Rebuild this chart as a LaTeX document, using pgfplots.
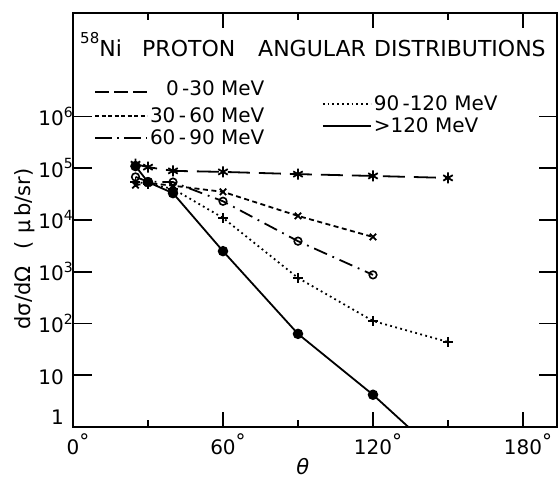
\documentclass[border=0pt]{standalone}
\usepackage{fontspec}
\setmainfont{DejaVu Sans}
\usepackage{pgfplots}
\usepackage{pgfplotstable}
\pgfplotsset{compat=1.18}

\newcommand{\sx}[1]{\rlap{\raisebox{0.42em}{\fontsize{14}{14}\selectfont #1}}}
\newcommand{\dg}{\rlap{\raisebox{0.3em}{\fontsize{20}{20}\selectfont °}}}

% 0-30 MeV
\pgfplotstableread{
x y
25 1.2e5
30 1.05e5
40 8.9e4
60 8.5e4
90 7.7e4
120 7.1e4
150 6.5e4
}\sA
% 30-60 MeV
\pgfplotstableread{
x y
25 4.7e4
30 5.2e4
40 4.6e4
60 3.5e4
90 1.2e4
120 4.7e3
}\sB
% 60-90 MeV
\pgfplotstableread{
x y
25 6.8e4
30 5.5e4
40 5.4e4
60 2.3e4
90 3.9e3
120 870
}\sC
% 90-120 MeV
\pgfplotstableread{
x y
25 5.5e4
30 5.0e4
40 4.0e4
60 1.1e4
90 760
120 112
150 44
}\sD
% >120 MeV
\pgfplotstableread{
x y
25 1.1e5
30 5.4e4
40 3.3e4
60 2.5e3
90 63
120 4.2
150 0.2
}\sE

\begin{document}
\begin{tikzpicture}
\begin{axis}[name=main,
  scale only axis, width=484pt, height=414pt,
  xmin=0, xmax=193.6, ymode=log, ymin=1, ymax=1e8,
  axis line style={line width=1.8pt},
  major tick length=0pt,
  minor tick length=0pt,
  xtick={0,60,120,180},
  xticklabels={0\dg,60\dg,120\dg,180\dg},
  ytick={1,10,100,1e3,1e4,1e5,1e6},
  yticklabels={\raisebox{11pt}{1}\hspace{4pt},10,10\sx{2},10\sx{3},10\sx{4},10\sx{5},10\sx{6}},
  yminorticks=false,
  ticklabel style={font=\fontsize{20}{24}\selectfont},
  xticklabel style={anchor=base, inner sep=0pt, yshift=-28pt},
  yticklabel style={anchor=base east, inner sep=0pt, xshift=-9pt, yshift=-9pt},
  xlabel={\textit{θ}},
  xlabel style={at={(axis description cs:0.475,0)}, anchor=center, yshift=-40pt, font=\fontsize{21}{24}\selectfont},
  ylabel={dσ/dΩ\hspace{0.8em}(\hspace{0.4em}μ\hspace{0.15em}b/sr)},
  ylabel style={at={(axis description cs:-0.0992,0.43)}, anchor=center, font=\fontsize{21}{24}\selectfont},
  legend style={draw=none, fill=none, inner sep=0pt, row sep=0pt,
    font=\fontsize{20}{22}\selectfont,
    nodes={inner sep=2pt, text height=15pt, text depth=3pt},
    at={(axis description cs:0.0434,0.843)}, anchor=north west},
  legend image code/.code={\draw[#1] (0pt,0pt) -- (52pt,0pt);},
  legend cell align=right,
]
% frame tick marks (inward), drawn as short plotted segments
\addplot[forget plot, mark=none, black, solid, line width=1.6pt] coordinates {(60,1) (60,1.95)};
\addplot[forget plot, mark=none, black, solid, line width=1.6pt] coordinates {(120,1) (120,1.95)};
\addplot[forget plot, mark=none, black, solid, line width=1.6pt] coordinates {(180,1) (180,1.95)};
\addplot[forget plot, mark=none, black, solid, line width=1.6pt] coordinates {(30,1) (30,1.37)};
\addplot[forget plot, mark=none, black, solid, line width=1.6pt] coordinates {(90,1) (90,1.37)};
\addplot[forget plot, mark=none, black, solid, line width=1.6pt] coordinates {(150,1) (150,1.37)};
\addplot[forget plot, mark=none, black, solid, line width=1.6pt] coordinates {(60,1e8) (60,5.13e7)};
\addplot[forget plot, mark=none, black, solid, line width=1.6pt] coordinates {(120,1e8) (120,5.13e7)};
\addplot[forget plot, mark=none, black, solid, line width=1.6pt] coordinates {(180,1e8) (180,5.13e7)};
\addplot[forget plot, mark=none, black, solid, line width=1.6pt] coordinates {(30,1e8) (30,7.3e7)};
\addplot[forget plot, mark=none, black, solid, line width=1.6pt] coordinates {(90,1e8) (90,7.3e7)};
\addplot[forget plot, mark=none, black, solid, line width=1.6pt] coordinates {(150,1e8) (150,7.3e7)};
\addplot[forget plot, mark=none, black, solid, line width=1.6pt] coordinates {(0,10) (7.6,10)};
\addplot[forget plot, mark=none, black, solid, line width=1.6pt] coordinates {(0,100) (7.6,100)};
\addplot[forget plot, mark=none, black, solid, line width=1.6pt] coordinates {(0,1000) (7.6,1000)};
\addplot[forget plot, mark=none, black, solid, line width=1.6pt] coordinates {(0,10000) (7.6,10000)};
\addplot[forget plot, mark=none, black, solid, line width=1.6pt] coordinates {(0,100000) (7.6,100000)};
\addplot[forget plot, mark=none, black, solid, line width=1.6pt] coordinates {(0,1000000) (7.6,1000000)};
\addplot[forget plot, mark=none, black, solid, line width=1.6pt] coordinates {(193.6,10) (186.4,10)};
\addplot[forget plot, mark=none, black, solid, line width=1.6pt] coordinates {(193.6,100) (186.4,100)};
\addplot[forget plot, mark=none, black, solid, line width=1.6pt] coordinates {(193.6,1000) (186.4,1000)};
\addplot[forget plot, mark=none, black, solid, line width=1.6pt] coordinates {(193.6,10000) (186.4,10000)};
\addplot[forget plot, mark=none, black, solid, line width=1.6pt] coordinates {(193.6,100000) (186.4,100000)};
\addplot[forget plot, mark=none, black, solid, line width=1.6pt] coordinates {(193.6,1000000) (186.4,1000000)};
% data
\addplot[black, line width=1.8pt, dash pattern=on 22pt off 9pt, forget plot,
  mark=asterisk, mark size=5.5pt, mark options={solid, line width=1.8pt}] table {\sA};
\addplot[black, line width=1.8pt, dash pattern=on 5pt off 3.5pt, forget plot,
  mark=x, mark size=4.5pt, mark options={solid, line width=1.8pt}] table {\sB};
\addplot[black, line width=1.8pt, dash pattern=on 14pt off 6pt on 1.8pt off 6pt, forget plot,
  mark=o, mark size=3.8pt, mark options={solid, line width=1.6pt, fill=white}] table {\sC};
\addplot[black, line width=1.8pt, dash pattern=on 1.8pt off 3.4pt, forget plot,
  mark=+, mark size=5pt, mark options={solid, line width=1.8pt}] table {\sD};
\addplot[black, line width=1.8pt, forget plot,
  mark=*, mark size=4.3pt, mark options={solid}] table {\sE};
\addlegendimage{black, line width=1.8pt, dash pattern=on 14pt off 5pt}
\addlegendentry[text depth=8pt]{0\,-30 MeV}
\addlegendimage{black, line width=1.8pt, dash pattern=on 4pt off 2.5pt}
\addlegendentry{30\,-\,60 MeV}
\addlegendimage{black, line width=1.8pt, dash pattern=on 17pt off 5pt on 2pt off 5pt}
\addlegendentry{60\,-\,90 MeV}
\node[anchor=base west, inner sep=0pt, font=\fontsize{22}{24}\selectfont]
  at (rel axis cs:0.0145,0.896)
  {\makebox[62pt][l]{\raisebox{0.55em}{\fontsize{15}{15}\selectfont 58}Ni}\makebox[116pt][l]{PROTON}\makebox[116pt][l]{ANGULAR}DISTRIBUTIONS};
\end{axis}
\begin{axis}[
  scale only axis, width=484pt, height=414pt,
  xmin=0, xmax=193.6, ymode=log, ymin=1, ymax=1e8,
  hide axis,
  legend style={draw=none, fill=none, inner sep=0pt, row sep=0pt,
    font=\fontsize{20}{22}\selectfont,
    nodes={inner sep=2pt, text height=15pt, text depth=3pt},
    at={(axis description cs:0.514,0.807)}, anchor=north west},
  legend image code/.code={\draw[#1] (0pt,0pt) -- (48pt,0pt);},
  legend cell align=left,
]
\addlegendimage{black, line width=1.8pt, dash pattern=on 1.8pt off 3pt}
\addlegendentry{90\,-120 MeV}
\addlegendimage{black, line width=1.8pt}
\addlegendentry{>120 MeV}
\end{axis}
\pgfresetboundingbox
\path[use as bounding box] ([xshift=-73pt,yshift=-52pt]main.south west) rectangle ([xshift=485pt,yshift=427pt]main.south west);
\end{tikzpicture}
\end{document}
